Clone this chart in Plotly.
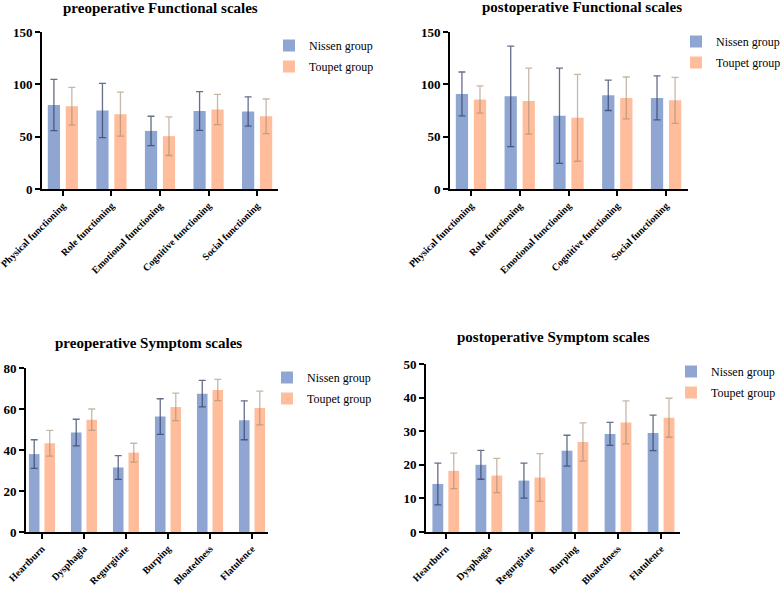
import plotly.graph_objects as go

W, H = 782, 589

func_categories = ["Physical functioning", "Role functioning", "Emotional functioning",
                   "Cognitive functioning", "Social functioning"]
symp_categories = ["Heartburn", "Dysphagia", "Regurgitate", "Burping", "Bloatedness", "Flatulence"]

pre_func_nissen = [80.2, 75.0, 55.5, 74.5, 74.0]
pre_func_nissen_sd = [24.5, 26.0, 14.0, 18.5, 14.0]
pre_func_toupet = [79.0, 71.5, 50.5, 76.0, 69.5]
pre_func_toupet_sd = [18.0, 21.0, 18.5, 14.5, 16.5]

post_func_nissen = [90.8, 88.5, 70.0, 89.5, 87.0]
post_func_nissen_sd = [21.0, 48.0, 45.5, 14.5, 21.0]
post_func_toupet = [85.5, 84.0, 68.0, 87.0, 84.7]
post_func_toupet_sd = [13.0, 31.5, 41.5, 20.0, 22.0]

pre_symp_nissen = [38.0, 48.5, 31.5, 56.3, 67.5, 54.5]
pre_symp_nissen_sd = [7.0, 6.5, 5.8, 8.7, 6.5, 9.5]
pre_symp_toupet = [43.3, 54.8, 38.7, 61.0, 69.3, 60.5]
pre_symp_toupet_sd = [6.3, 5.2, 4.6, 6.7, 5.2, 8.2]

post_symp_nissen = [14.3, 20.0, 15.3, 24.2, 29.2, 29.5]
post_symp_nissen_sd = [6.2, 4.3, 5.2, 4.6, 3.4, 5.3]
post_symp_toupet = [18.2, 16.8, 16.2, 26.8, 32.6, 34.0]
post_symp_toupet_sd = [5.3, 5.1, 7.1, 5.7, 6.4, 5.8]

titles = ["preoperative Functional scales", "postoperative Functional scales",
          "preoperative Symptom scales", "postoperative Symptom scales"]
group_names = ["Nissen group", "Toupet group"]

NISSEN = "#8fa6d3"
TOUPET = "#ffbd9b"
NISSEN_ERR = "rgba(50,62,100,0.75)"
TOUPET_ERR = "rgba(160,135,110,0.6)"
SERIF = "Liberation Serif"

panels = [
    dict(cats=func_categories, n=pre_func_nissen, nsd=pre_func_nissen_sd,
         t=pre_func_toupet, tsd=pre_func_toupet_sd, yr=[0, 150], dt=50,
         xpx=(42, 278), ypx=(32, 189), xr=[-0.43, 4.43],
         title_px=(160, 8), leg_px=(269, 31)),
    dict(cats=func_categories, n=post_func_nissen, nsd=post_func_nissen_sd,
         t=post_func_toupet, tsd=post_func_toupet_sd, yr=[0, 150], dt=50,
         xpx=(450, 688), ypx=(32, 189), xr=[-0.43, 4.45],
         title_px=(582, 7), leg_px=(676, 27)),
    dict(cats=symp_categories, n=pre_symp_nissen, nsd=pre_symp_nissen_sd,
         t=pre_symp_toupet, tsd=pre_symp_toupet_sd, yr=[0, 80], dt=20,
         xpx=(26, 268), ypx=(368, 532), xr=[-0.38, 5.38],
         title_px=(148, 343), leg_px=(267, 363)),
    dict(cats=symp_categories, n=post_symp_nissen, nsd=post_symp_nissen_sd,
         t=post_symp_toupet, tsd=post_symp_toupet_sd, yr=[0, 50], dt=10,
         xpx=(426, 680), ypx=(364, 532), xr=[-0.46, 5.44],
         title_px=(553, 337), leg_px=(671, 357)),
]

fig = go.Figure()
layout = dict(width=W, height=H, margin=dict(l=0, r=0, t=0, b=0, autoexpand=False),
              paper_bgcolor="white", plot_bgcolor="white",
              barmode="group", bargap=0.26, bargroupgap=0.32,
              font=dict(family=SERIF, color="black"), annotations=[])

for i, p in enumerate(panels):
    k = "" if i == 0 else str(i + 1)
    xa, ya = "x" + k, "y" + k
    leg = "legend" + k
    for gi, (name, vals, sd, col, ecol) in enumerate([
        (group_names[0], p["n"], p["nsd"], NISSEN, NISSEN_ERR),
        (group_names[1], p["t"], p["tsd"], TOUPET, TOUPET_ERR),
    ]):
        fig.add_trace(go.Bar(
            x=p["cats"], y=vals, name=name, marker=dict(color=col, line=dict(width=0)),
            error_y=dict(type="data", array=sd, visible=True, color=ecol,
                         thickness=1.3, width=3.5),
            xaxis=xa, yaxis=ya, legend=leg, showlegend=True,
            legendgroup="g%d_%d" % (i, gi)))
    x0, x1 = p["xpx"]
    y0, y1 = p["ypx"]
    layout["xaxis" + k] = dict(
        domain=[x0 / W, x1 / W], anchor=ya, range=p["xr"], type="category",
        showline=True, linecolor="black", linewidth=2, ticks="outside",
        ticklen=5, tickwidth=2, tickcolor="black", tickangle=-45, automargin=False,
        tickfont=dict(family=SERIF, size=10, color="black", weight="bold"),
        showgrid=False, zeroline=False, fixedrange=True)
    layout["yaxis" + k] = dict(
        domain=[1 - y1 / H, 1 - y0 / H], anchor=xa, range=p["yr"], dtick=p["dt"],
        showline=True, linecolor="black", linewidth=2, ticks="outside", automargin=False,
        ticklen=5, tickwidth=2, tickcolor="black",
        tickfont=dict(family=SERIF, size=13, color="black", weight="bold"),
        showgrid=False, zeroline=False, fixedrange=True)
    tx, ty = p["title_px"]
    layout["annotations"].append(dict(
        text="<b>" + titles[i] + "</b>", x=tx / W, y=1 - ty / H, xref="paper", yref="paper",
        xanchor="center", yanchor="middle", showarrow=False,
        font=dict(family=SERIF, size=15, color="black")))
    lx, ly = p["leg_px"]
    layout[leg] = dict(x=lx / W, y=1 - ly / H, xanchor="left", yanchor="top",
                       bgcolor="rgba(0,0,0,0)", traceorder="grouped",
                       font=dict(family=SERIF, size=12, color="black"),
                       itemwidth=30, tracegroupgap=2)

fig.update_layout(**layout)
fig.write_html("out.html")
